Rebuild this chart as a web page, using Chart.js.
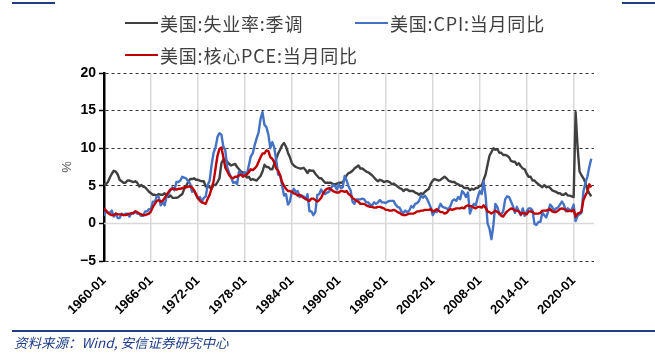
<!DOCTYPE html>
<html>
<head>
<meta charset="utf-8">
<script src="https://cdn.jsdelivr.net/npm/chart.js@4.4.1/dist/chart.umd.min.js"></script>
<style>
  body { margin: 0; background: #fff; }
  #wrap { position: relative; width: 655px; height: 360px; overflow: hidden; background: #fff; }
  #chart { position: absolute; left: 0; top: 0; }
  .rule { position: absolute; background: #1f3c88; }
  .legend-item { position: absolute; height: 22px; display: flex; align-items: center; white-space: nowrap;
    font-family: "Microsoft YaHei", "Noto Sans CJK SC", sans-serif; font-size: 18px; letter-spacing: 0.8px; color: #404040; }
  .legend-item .swatch { display: inline-block; width: 33px; height: 2.5px; margin-right: 2px; }
  #source { position: absolute; left: 14px; top: 332px; font-family: "Noto Sans CJK SC", sans-serif;
    font-style: italic; font-size: 13.5px; color: #1f3c88; white-space: nowrap; }
</style>
</head>
<body>
<div id="wrap">
  <canvas id="chart" width="655" height="360"></canvas>
  <div class="rule" style="left:12px; top:2px; width:43px; height:2px"></div>
  <div class="rule" style="left:622px; top:2px; width:33px; height:2px"></div>
  <div class="rule" style="left:12px; top:330px; width:643px; height:1.5px"></div>
  <div id="source">资料来源：Wind, 安信证券研究中心</div>
</div>
<script>
// quarterly samples (Jan, Apr, Jul, Oct), starting 1960-01
const startYear = 1960;
const stepYears = 0.25;

const unemployment = [
  5.2, 5.2, 5.5, 6.1,   6.6, 7.0, 6.9, 6.5,   5.8, 5.6, 5.4, 5.4,   5.7, 5.7, 5.6, 5.5,
  5.6, 5.4, 4.9, 5.1,   4.9, 4.8, 4.5, 4.2,   4.0, 3.8, 3.8, 3.7,   3.9, 3.8, 3.8, 4.0,
  3.7, 3.5, 3.7, 3.4,   3.4, 3.4, 3.5, 3.7,   3.9, 4.6, 5.0, 5.5,   5.9, 5.9, 6.0, 5.8,
  5.8, 5.7, 5.6, 5.6,   4.9, 5.0, 4.8, 4.6,   5.1, 5.1, 5.5, 6.0,   8.0, 8.5, 8.4, 8.2,
  7.9, 7.7, 7.8, 7.9,   7.5, 7.2, 6.9, 6.8,   6.4, 6.1, 6.2, 5.8,   5.9, 5.8, 5.7, 6.0,
  6.3, 6.9, 7.8, 7.5,   7.5, 7.2, 7.2, 7.9,   8.6, 9.3, 9.8, 10.4,  10.7, 10.2, 9.4, 8.8,
  8.0, 7.7, 7.5, 7.4,   7.3, 7.3, 7.4, 7.1,   6.7, 7.1, 7.0, 7.0,   6.6, 6.3, 6.0, 6.0,
  5.7, 5.4, 5.4, 5.4,   5.4, 5.2, 5.2, 5.3,   5.4, 5.4, 5.5, 5.9,   6.4, 6.7, 6.8, 7.0,
  7.3, 7.5, 7.7, 7.3,   7.3, 7.1, 6.9, 6.8,   6.6, 6.4, 6.1, 5.8,   5.6, 5.8, 5.7, 5.5,
  5.6, 5.6, 5.5, 5.2,   5.3, 5.1, 4.9, 4.7,   4.6, 4.3, 4.5, 4.5,   4.3, 4.3, 4.3, 4.1,
  4.0, 3.8, 4.0, 3.9,   4.2, 4.4, 4.6, 5.3,   5.7, 5.9, 5.8, 5.7,   5.8, 6.0, 6.2, 6.0,
  5.7, 5.6, 5.5, 5.5,   5.3, 5.2, 5.0, 5.0,   4.7, 4.7, 4.7, 4.4,   4.6, 4.5, 4.7, 4.7,
  5.0, 5.0, 5.8, 6.5,   7.8, 9.0, 9.5, 10.0,  9.8, 9.9, 9.4, 9.4,   9.1, 9.1, 9.0, 8.8,
  8.3, 8.2, 8.2, 7.8,   8.0, 7.6, 7.3, 7.2,   6.6, 6.2, 6.2, 5.7,   5.7, 5.4, 5.2, 5.0,
  4.8, 5.1, 4.8, 4.9,   4.7, 4.4, 4.3, 4.2,   4.0, 4.0, 3.8, 3.8,   4.0, 3.7, 3.7, 3.6,
  3.5, 14.8, 10.2, 6.9, 6.4, 6.0, 5.4, 4.5,   4.0, 3.6
];

const cpi = [
  1.0, 1.7, 1.4, 1.4,   1.7, 0.9, 1.3, 0.7,   0.7, 1.3, 1.1, 1.3,   1.3, 0.9, 1.4, 1.3,
  1.6, 1.3, 1.3, 1.0,   1.0, 1.6, 1.6, 1.9,   1.9, 2.9, 2.9, 3.6,   3.5, 2.4, 2.8, 2.4,
  3.6, 3.9, 4.5, 4.8,   4.4, 5.5, 5.5, 5.7,   6.2, 6.1, 6.0, 5.6,   5.3, 4.2, 4.4, 3.8,
  3.3, 3.5, 2.9, 3.4,   3.6, 5.1, 5.7, 7.8,   9.4, 10.1, 11.5, 12.0, 11.8, 10.2, 9.7, 7.4,
  6.7, 6.1, 5.4, 5.5,   5.2, 6.9, 6.7, 6.4,   6.8, 6.5, 7.7, 8.9,   9.3, 10.4, 11.3, 12.1,
  13.9, 14.8, 13.1, 12.8, 11.8, 10.0, 10.8, 10.1, 8.4, 6.5, 6.4, 5.1,  3.7, 3.9, 2.5, 2.9,
  4.2, 4.6, 4.2, 4.3,   3.5, 3.7, 3.6, 3.2,   3.9, 1.6, 1.6, 1.1,   1.5, 3.8, 3.9, 4.5,
  4.0, 3.9, 4.1, 4.2,   4.7, 5.1, 5.0, 4.5,   5.2, 4.7, 4.8, 6.3,   5.7, 4.9, 4.4, 2.9,
  2.6, 3.2, 3.2, 3.2,   3.3, 3.2, 2.8, 2.8,   2.5, 2.4, 2.8, 2.6,   2.8, 3.1, 2.8, 2.8,
  2.7, 2.9, 3.0, 3.0,   3.0, 2.5, 2.2, 2.1,   1.6, 1.4, 1.7, 1.5,   1.7, 2.3, 2.1, 2.6,
  2.7, 3.0, 3.7, 3.4,   3.7, 3.3, 2.7, 2.1,   1.1, 1.6, 1.5, 2.0,   2.6, 2.2, 2.1, 2.0,
  1.9, 2.3, 3.0, 3.2,   3.0, 3.5, 3.2, 4.3,   4.0, 3.5, 4.1, 1.3,   2.1, 2.6, 2.4, 3.5,
  4.3, 3.9, 5.6, 3.7,   0.0, -0.7, -2.1, -0.2, 2.6, 2.2, 1.2, 1.2,   1.6, 3.2, 3.6, 3.5,
  2.9, 2.3, 1.4, 2.2,   1.6, 1.1, 2.0, 1.0,   1.6, 2.0, 2.0, 1.7,   -0.1, -0.2, 0.2, 0.2,
  1.4, 1.1, 0.8, 1.6,   2.5, 2.2, 1.7, 2.0,   2.1, 2.5, 2.9, 2.5,   1.6, 2.0, 1.8, 1.8,
  2.5, 0.3, 1.0, 1.2,   1.4, 4.2, 5.4, 6.2,   7.5, 8.6
];

const corePce = [
  2.0, 1.7, 1.4, 1.2,   1.1, 1.1, 1.3, 1.2,   1.2, 1.2, 1.1, 1.1,   1.2, 1.3, 1.3, 1.4,
  1.6, 1.5, 1.3, 1.2,   1.1, 1.1, 1.2, 1.3,   1.6, 2.2, 2.6, 3.0,   3.1, 2.9, 3.0, 3.4,
  3.8, 4.2, 4.5, 4.6,   4.6, 4.5, 4.6, 4.6,   4.7, 4.8, 4.8, 4.9,   4.9, 4.8, 4.4, 3.9,
  3.4, 3.0, 2.8, 2.7,   2.6, 3.3, 3.8, 4.7,   5.6, 7.3, 9.0, 9.9,   10.1, 8.8, 7.4, 6.9,
  6.4, 6.1, 6.0, 6.2,   6.2, 6.4, 6.5, 6.2,   6.4, 6.5, 6.8, 7.2,   7.1, 7.3, 7.6, 8.2,
  8.8, 9.3, 9.3, 9.7,   9.6, 8.8, 8.6, 8.1,   7.3, 7.0, 6.4, 5.5,   5.0, 4.6, 4.3, 4.3,
  4.2, 4.0, 3.9, 3.7,   3.8, 3.6, 3.4, 3.3,   3.1, 3.0, 3.3, 3.3,   3.1, 2.9, 3.1, 3.4,
  4.0, 4.4, 4.6, 4.7,   4.5, 4.3, 4.2, 4.1,   4.1, 4.3, 4.3, 4.2,   4.3, 3.9, 3.7, 3.4,
  3.2, 3.0, 2.9, 2.6,   2.6, 2.6, 2.4, 2.3,   2.2, 2.2, 2.1, 2.1,   2.2, 2.2, 2.1, 2.0,
  1.8, 1.8, 1.7, 1.7,   1.8, 1.7, 1.5, 1.4,   1.2, 1.1, 1.1, 1.2,   1.3, 1.3, 1.3, 1.4,
  1.6, 1.6, 1.7, 1.7,   1.8, 1.8, 1.8, 1.9,   1.6, 1.7, 1.9, 1.7,   1.5, 1.5, 1.3, 1.4,
  1.7, 1.9, 1.8, 1.9,   2.0, 2.0, 2.0, 2.1,   2.0, 2.3, 2.4, 2.3,   2.3, 2.1, 2.0, 2.2,
  2.2, 2.1, 2.4, 2.1,   1.6, 1.5, 1.3, 1.5,   1.7, 1.5, 1.4, 1.0,   0.9, 1.3, 1.6, 1.8,
  2.0, 1.9, 1.7, 1.7,   1.6, 1.2, 1.4, 1.3,   1.2, 1.6, 1.6, 1.5,   1.3, 1.3, 1.3, 1.4,
  1.7, 1.7, 1.7, 1.8,   1.9, 1.6, 1.5, 1.5,   1.7, 1.9, 2.0, 1.9,   1.8, 1.6, 1.7, 1.6,
  1.8, 0.9, 1.3, 1.4,   1.6, 3.1, 3.7, 4.2,   5.2, 4.8
];

const seriesLabels = ['美国:失业率:季调', '美国:CPI:当月同比', '美国:核心PCE:当月同比'];
const seriesColors = ['#404040', '#4472C4', '#C00000'];
const xTickYears = [1960, 1966, 1972, 1978, 1984, 1990, 1996, 2002, 2008, 2014, 2020];
const yTickValues = [-5, 0, 5, 10, 15, 20];

function toPoints(values) {
  return values.map((v, i) => ({ x: startYear + i * stepYears, y: v }));
}

// the zero line is a plain light grey line, the other levels are dashed
const zeroLine = {
  id: 'zeroLine',
  beforeDatasetsDraw(chart) {
    const { ctx, chartArea, scales } = chart;
    const py = Math.round(scales.y.getPixelForValue(0)) + 0.5;
    ctx.save();
    ctx.strokeStyle = '#d9d9d9';
    ctx.lineWidth = 1.5;
    ctx.beginPath();
    ctx.moveTo(chartArea.left, py);
    ctx.lineTo(chartArea.right, py);
    ctx.stroke();
    ctx.restore();
  }
};

const datasets = [unemployment, cpi, corePce].map((values, i) => ({
  label: seriesLabels[i],
  data: toPoints(values),
  borderColor: seriesColors[i],
  backgroundColor: seriesColors[i],
  borderWidth: 2.4,
  order: 3 - i
}));

new Chart(document.getElementById('chart').getContext('2d'), {
  type: 'line',
  data: { datasets: datasets },
  options: {
    responsive: false,
    animation: false,
    events: [],
    elements: {
      point: { radius: 0 },
      line: { tension: 0, borderJoinStyle: 'round' }
    },
    layout: { padding: { top: 73, right: 61, bottom: 42, left: 0 } },
    plugins: {
      legend: { display: false },
      tooltip: { enabled: false }
    },
    scales: {
      x: {
        type: 'linear',
        min: 1960,
        max: 2022.6,
        afterBuildTicks: scale => { scale.ticks = xTickYears.map(v => ({ value: v })); },
        afterFit: scale => { scale.height = 57; },
        grid: { color: '#d9d9d9', lineWidth: 1.5, drawTicks: false },
        border: { display: false },
        ticks: {
          autoSkip: false,
          minRotation: 45,
          maxRotation: 45,
          padding: 12,
          color: '#000',
          font: { family: 'Liberation Sans, Arial, sans-serif', size: 13, weight: 'bold' },
          callback: v => v + '-01'
        }
      },
      y: {
        min: -5,
        max: 20,
        afterBuildTicks: scale => { scale.ticks = yTickValues.map(v => ({ value: v })); },
        afterFit: scale => { scale.width = 104; },
        grid: {
          color: c => (c.tick && c.tick.value === 0) ? 'rgba(0,0,0,0)' : '#333',
          lineWidth: 1,
          tickColor: '#000',
          tickLength: 5,
          tickWidth: 1.5,
          tickBorderDash: []
        },
        border: { color: '#000', width: 2.5, dash: [3, 3] },
        title: {
          display: true,
          text: '%',
          color: '#595959',
          font: { family: 'Liberation Sans, Arial, sans-serif', size: 13 },
          padding: { top: 60, bottom: 0 }
        },
        ticks: {
          padding: 3,
          color: '#000',
          font: { family: 'Liberation Sans, Arial, sans-serif', size: 14, weight: 'bold' },
          callback: v => String(v).replace('-', '\u2212')
        }
      }
    }
  },
  plugins: [zeroLine]
});

// legend: two entries on the first row, the third below the first
const legendSpots = [
  { left: 125, top: 12 },
  { left: 355, top: 12 },
  { left: 125, top: 44 }
];
const wrap = document.getElementById('wrap');
datasets.forEach((ds, i) => {
  const item = document.createElement('div');
  item.className = 'legend-item';
  item.style.left = legendSpots[i].left + 'px';
  item.style.top = legendSpots[i].top + 'px';
  const swatch = document.createElement('span');
  swatch.className = 'swatch';
  swatch.style.background = ds.borderColor;
  const text = document.createElement('span');
  text.textContent = ds.label;
  item.appendChild(swatch);
  item.appendChild(text);
  wrap.appendChild(item);
});
</script>
</body>
</html>
